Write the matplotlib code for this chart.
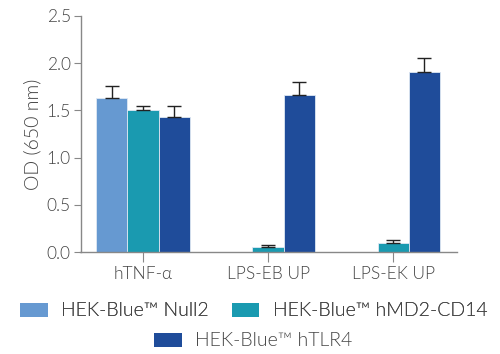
import matplotlib
matplotlib.use("Agg")
import matplotlib.pyplot as plt
from matplotlib.patches import Patch
import numpy as np

categories = ["hTNF-\u03b1", "LPS-EB UP", "LPS-EK UP"]
series = ["HEK-Blue\u2122 Null2", "HEK-Blue\u2122 hMD2-CD14", "HEK-Blue\u2122 hTLR4"]
null2 = [1.63, 0.0, 0.0]
null2_err = [0.125, 0.0, 0.0]
hmd2 = [1.50, 0.05, 0.10]
hmd2_err = [0.05, 0.025, 0.03]
htlr4 = [1.43, 1.66, 1.91]
htlr4_err = [0.115, 0.145, 0.14]
colors = ["#6699D1", "#1A9AB0", "#1F4C9A"]

plt.rcParams['font.family'] = ['Lato', 'DejaVu Sans']
plt.rcParams['font.weight'] = 300
plt.rcParams['axes.labelweight'] = 300
txt = "#444444"
fig = plt.figure(figsize=(5.0, 3.54), dpi=100)
ax = fig.add_axes([0.161, 0.288, 0.753, 0.667])

x = np.arange(len(categories))
w = 0.25
vals = [null2, hmd2, htlr4]
errs = [null2_err, hmd2_err, htlr4_err]
for i, (v, e, c) in enumerate(zip(vals, errs, colors)):
    pos = x + (i - 1) * w
    mask = np.array(v) > 0
    ax.bar(pos, v, width=w, color=c, edgecolor="#dfe8f3", linewidth=0.6, zorder=2)
    ax.errorbar(pos[mask], np.array(v)[mask], yerr=[np.zeros(mask.sum()), np.array(e)[mask]],
                fmt="none", ecolor="#222222", elinewidth=1.0, capsize=5, capthick=1.0, zorder=3)

ax.set_xlim(-0.5, 2.51)
ax.set_ylim(0, 2.5)
ax.set_yticks([0, 0.5, 1.0, 1.5, 2.0, 2.5])
ax.set_yticklabels(["0.0", "0.5", "1.0", "1.5", "2.0", "2.5"])
ax.set_xticks(x)
ax.set_xticklabels(categories)
for s in ["top", "right"]:
    ax.spines[s].set_visible(False)
for s in ["left", "bottom"]:
    ax.spines[s].set_color("#888888")
    ax.spines[s].set_linewidth(1.0)
ax.tick_params(axis="y", length=5, color="#888888", labelsize=12.5, labelcolor=txt, pad=2)
ax.tick_params(axis="x", length=7, color="#888888", labelsize=12.5, labelcolor=txt, pad=3)
ax.set_ylabel("OD (650 nm)", fontsize=14, color=txt, labelpad=4, fontweight=300)

h = [Patch(facecolor=c, edgecolor="none") for c in colors]
kw = dict(frameon=False, fontsize=14, handlelength=1.4, handleheight=0.7,
          handletextpad=0.7, labelcolor=txt)
leg1 = fig.legend(h[:2], series[:2], ncol=2, loc="center", bbox_to_anchor=(0.508, 1 - 311 / 354),
                  columnspacing=1.2, **kw)
leg2 = fig.legend(h[2:], series[2:], ncol=1, loc="center", bbox_to_anchor=(0.507, 1 - 341 / 354), **kw)
fig.add_artist(leg1)

fig.savefig("out.png", dpi=100)
